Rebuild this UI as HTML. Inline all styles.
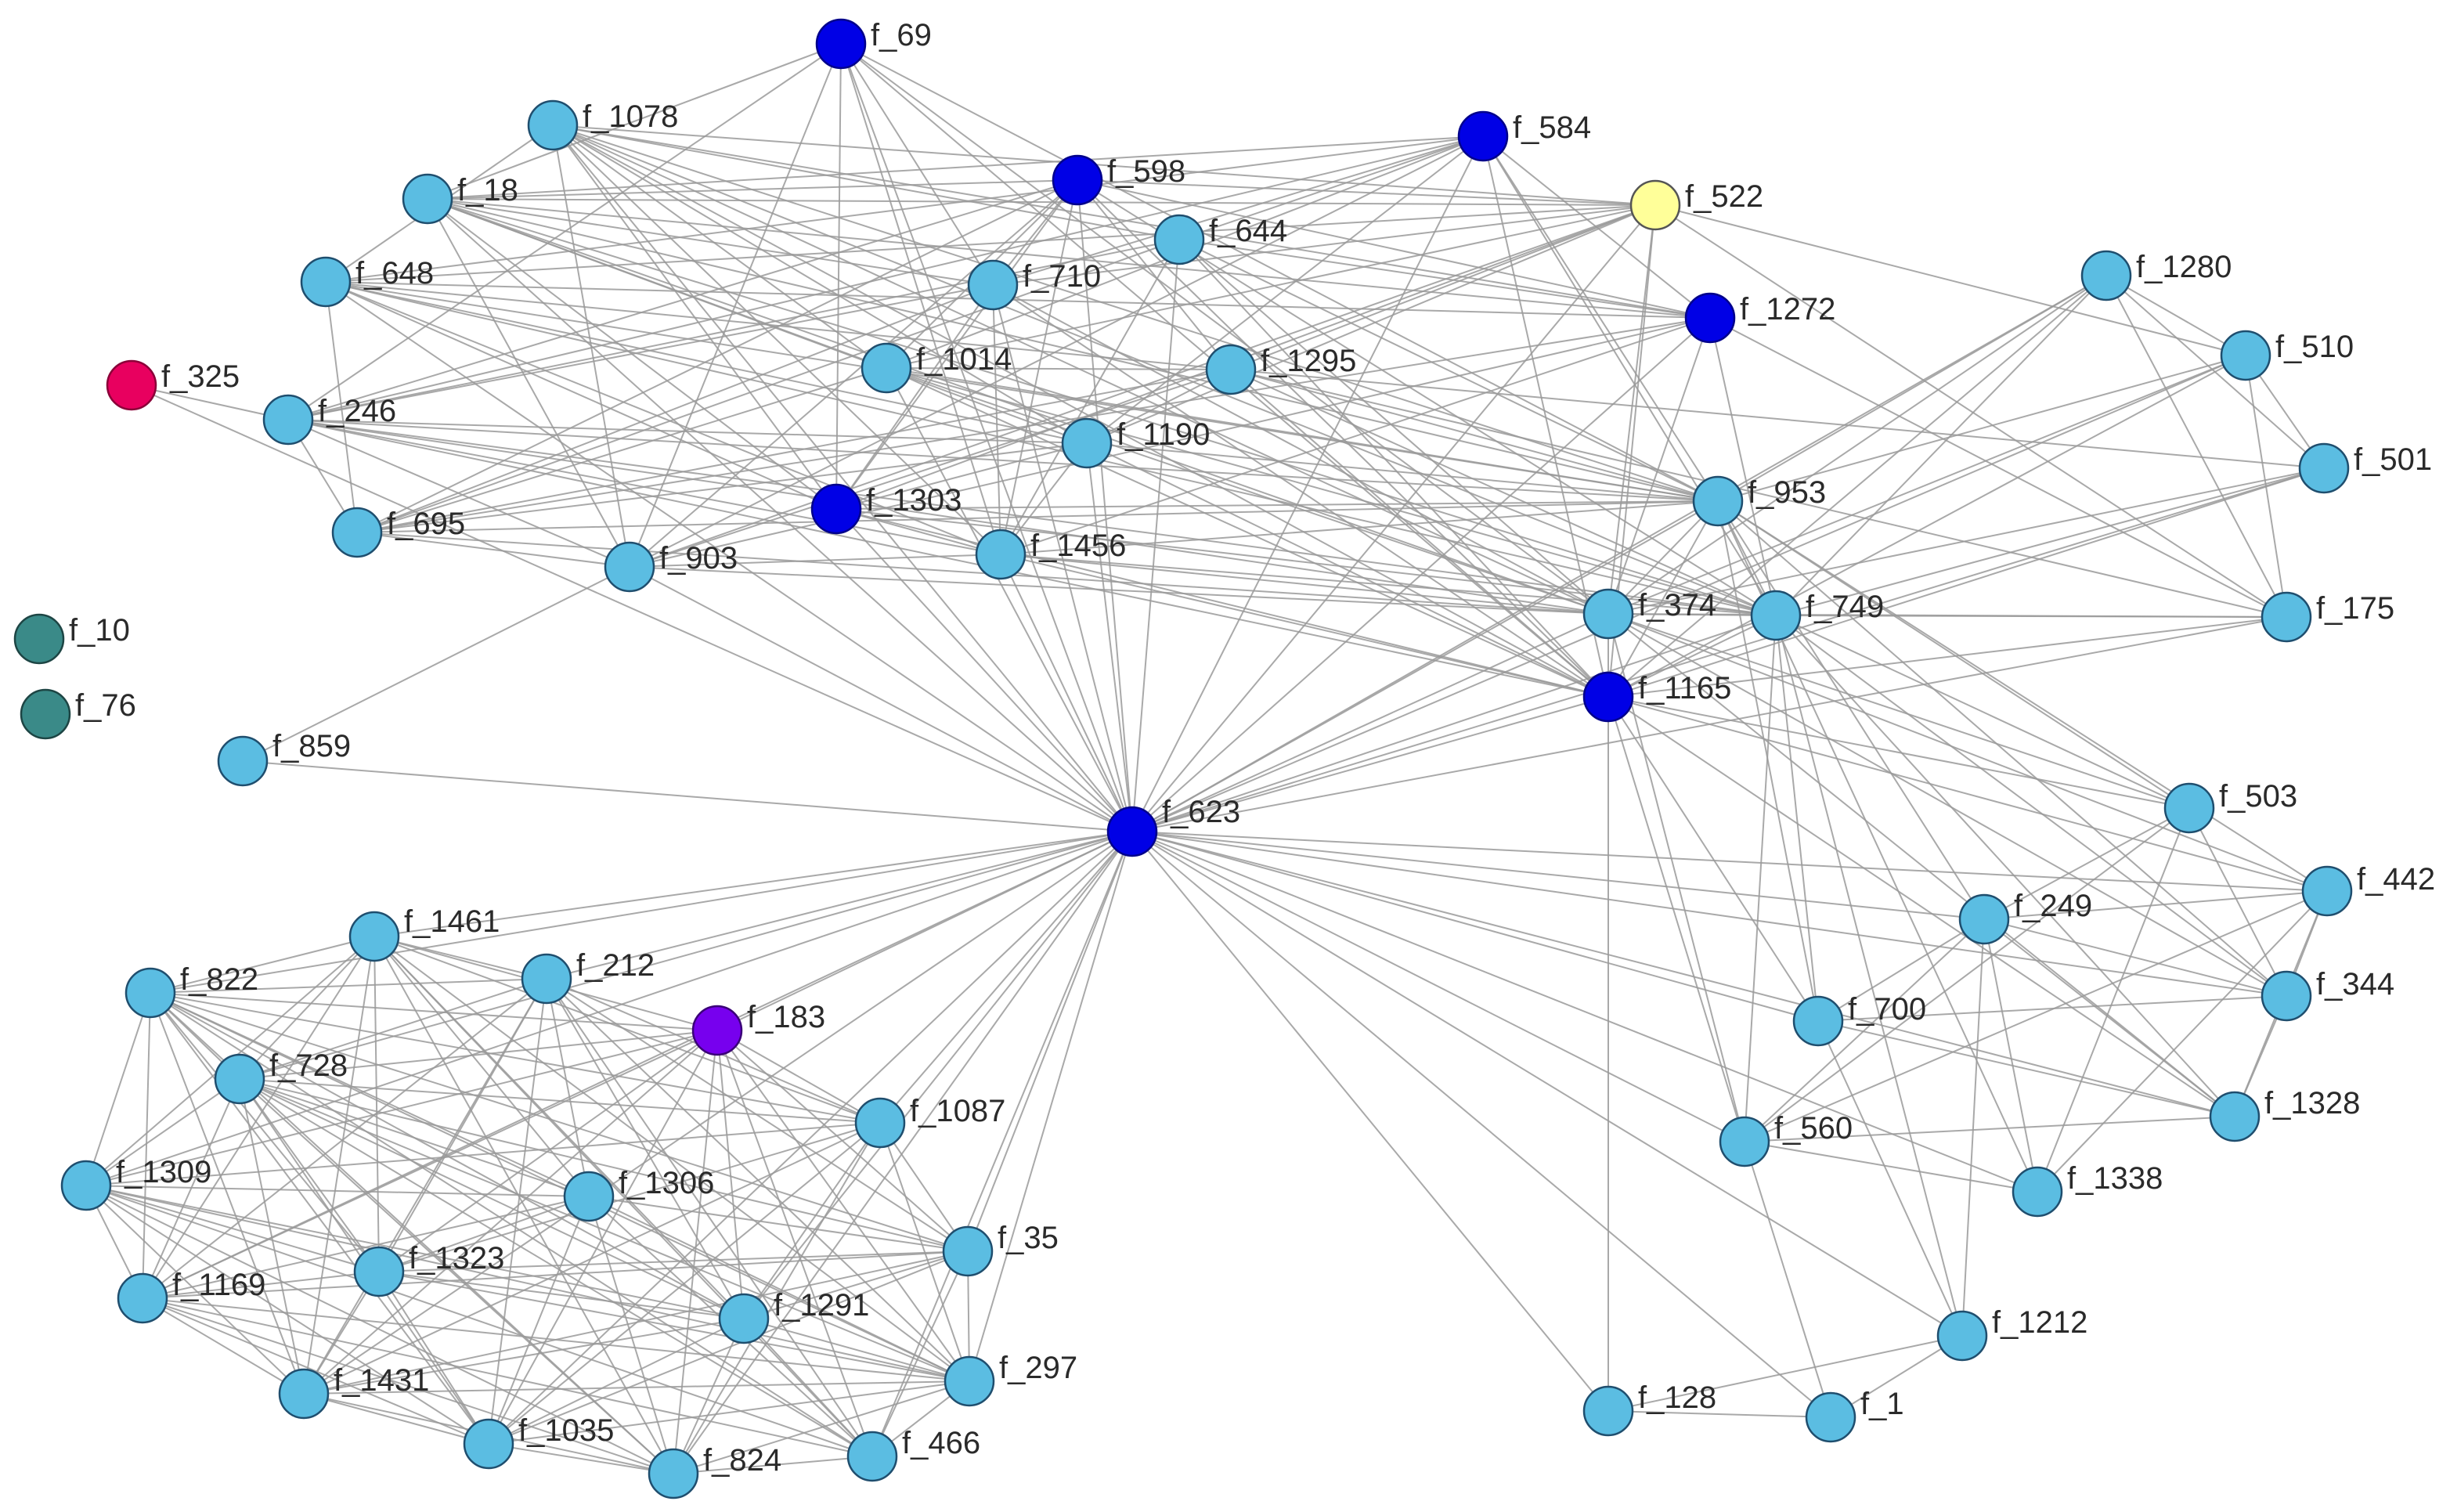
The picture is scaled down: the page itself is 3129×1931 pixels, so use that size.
<!DOCTYPE html>
<html><head><meta charset="utf-8"><style>
html,body{margin:0;padding:0;background:#fff;width:3129px;height:1931px;overflow:hidden}
svg{display:block}
text{font-family:"Liberation Sans",sans-serif;font-size:40px;fill:#2a2a2a}
</style></head><body>
<svg id="s" width="3129" height="1931" viewBox="0 0 3129 1931" xmlns="http://www.w3.org/2000/svg">
<g id="edges" stroke="#9a9a9a" stroke-width="2" stroke-opacity="0.85"></g>
<g id="nodes" stroke-width="2.5">
<circle cx="1074" cy="56" r="31" fill="#0000e6" stroke="#00008b"/><text x="1112" y="58">f_69</text>
<circle cx="706" cy="160" r="31" fill="#5bbde2" stroke="#1f4e6e"/><text x="744" y="162">f_1078</text>
<circle cx="546" cy="254" r="31" fill="#5bbde2" stroke="#1f4e6e"/><text x="584" y="256">f_18</text>
<circle cx="1376" cy="230" r="31" fill="#0000e6" stroke="#00008b"/><text x="1414" y="232">f_598</text>
<circle cx="1894" cy="174" r="31" fill="#0000e6" stroke="#00008b"/><text x="1932" y="176">f_584</text>
<circle cx="2114" cy="262" r="31" fill="#ffff99" stroke="#555"/><text x="2152" y="264">f_522</text>
<circle cx="1506" cy="306" r="31" fill="#5bbde2" stroke="#1f4e6e"/><text x="1544" y="308">f_644</text>
<circle cx="1268" cy="364" r="31" fill="#5bbde2" stroke="#1f4e6e"/><text x="1306" y="366">f_710</text>
<circle cx="416" cy="360" r="31" fill="#5bbde2" stroke="#1f4e6e"/><text x="454" y="362">f_648</text>
<circle cx="2184" cy="406" r="31" fill="#0000e6" stroke="#00008b"/><text x="2222" y="408">f_1272</text>
<circle cx="2690" cy="352" r="31" fill="#5bbde2" stroke="#1f4e6e"/><text x="2728" y="354">f_1280</text>
<circle cx="2868" cy="454" r="31" fill="#5bbde2" stroke="#1f4e6e"/><text x="2906" y="456">f_510</text>
<circle cx="1132" cy="470" r="31" fill="#5bbde2" stroke="#1f4e6e"/><text x="1170" y="472">f_1014</text>
<circle cx="1572" cy="472" r="31" fill="#5bbde2" stroke="#1f4e6e"/><text x="1610" y="474">f_1295</text>
<circle cx="168" cy="492" r="31" fill="#e8005f" stroke="#8a0038"/><text x="206" y="494">f_325</text>
<circle cx="368" cy="536" r="31" fill="#5bbde2" stroke="#1f4e6e"/><text x="406" y="538">f_246</text>
<circle cx="1388" cy="566" r="31" fill="#5bbde2" stroke="#1f4e6e"/><text x="1426" y="568">f_1190</text>
<circle cx="2968" cy="598" r="31" fill="#5bbde2" stroke="#1f4e6e"/><text x="3006" y="600">f_501</text>
<circle cx="2194" cy="640" r="31" fill="#5bbde2" stroke="#1f4e6e"/><text x="2232" y="642">f_953</text>
<circle cx="1068" cy="650" r="31" fill="#0000e6" stroke="#00008b"/><text x="1106" y="652">f_1303</text>
<circle cx="456" cy="680" r="31" fill="#5bbde2" stroke="#1f4e6e"/><text x="494" y="682">f_695</text>
<circle cx="1278" cy="708" r="31" fill="#5bbde2" stroke="#1f4e6e"/><text x="1316" y="710">f_1456</text>
<circle cx="804" cy="724" r="31" fill="#5bbde2" stroke="#1f4e6e"/><text x="842" y="726">f_903</text>
<circle cx="2054" cy="784" r="31" fill="#5bbde2" stroke="#1f4e6e"/><text x="2092" y="786">f_374</text>
<circle cx="2268" cy="786" r="31" fill="#5bbde2" stroke="#1f4e6e"/><text x="2306" y="788">f_749</text>
<circle cx="2920" cy="788" r="31" fill="#5bbde2" stroke="#1f4e6e"/><text x="2958" y="790">f_175</text>
<circle cx="50" cy="816" r="31" fill="#3a8a88" stroke="#1d4544"/><text x="88" y="818">f_10</text>
<circle cx="2054" cy="890" r="31" fill="#0000e6" stroke="#00008b"/><text x="2092" y="892">f_1165</text>
<circle cx="58" cy="912" r="31" fill="#3a8a88" stroke="#1d4544"/><text x="96" y="914">f_76</text>
<circle cx="310" cy="972" r="31" fill="#5bbde2" stroke="#1f4e6e"/><text x="348" y="966">f_859</text>
<circle cx="1446" cy="1062" r="31" fill="#0000e6" stroke="#00008b"/><text x="1484" y="1050">f_623</text>
<circle cx="2796" cy="1032" r="31" fill="#5bbde2" stroke="#1f4e6e"/><text x="2834" y="1030">f_503</text>
<circle cx="2972" cy="1138" r="31" fill="#5bbde2" stroke="#1f4e6e"/><text x="3010" y="1136">f_442</text>
<circle cx="2534" cy="1174" r="31" fill="#5bbde2" stroke="#1f4e6e"/><text x="2572" y="1170">f_249</text>
<circle cx="478" cy="1196" r="31" fill="#5bbde2" stroke="#1f4e6e"/><text x="516" y="1190">f_1461</text>
<circle cx="698" cy="1250" r="31" fill="#5bbde2" stroke="#1f4e6e"/><text x="736" y="1246">f_212</text>
<circle cx="192" cy="1268" r="31" fill="#5bbde2" stroke="#1f4e6e"/><text x="230" y="1264">f_822</text>
<circle cx="2920" cy="1272" r="31" fill="#5bbde2" stroke="#1f4e6e"/><text x="2958" y="1270">f_344</text>
<circle cx="2322" cy="1304" r="31" fill="#5bbde2" stroke="#1f4e6e"/><text x="2360" y="1302">f_700</text>
<circle cx="916" cy="1316" r="31" fill="#7700ee" stroke="#3a0077"/><text x="954" y="1312">f_183</text>
<circle cx="306" cy="1378" r="31" fill="#5bbde2" stroke="#1f4e6e"/><text x="344" y="1374">f_728</text>
<circle cx="2854" cy="1426" r="31" fill="#5bbde2" stroke="#1f4e6e"/><text x="2892" y="1422">f_1328</text>
<circle cx="1124" cy="1434" r="31" fill="#5bbde2" stroke="#1f4e6e"/><text x="1162" y="1432">f_1087</text>
<circle cx="2228" cy="1458" r="31" fill="#5bbde2" stroke="#1f4e6e"/><text x="2266" y="1454">f_560</text>
<circle cx="110" cy="1514" r="31" fill="#5bbde2" stroke="#1f4e6e"/><text x="148" y="1510">f_1309</text>
<circle cx="2602" cy="1522" r="31" fill="#5bbde2" stroke="#1f4e6e"/><text x="2640" y="1518">f_1338</text>
<circle cx="752" cy="1528" r="31" fill="#5bbde2" stroke="#1f4e6e"/><text x="790" y="1524">f_1306</text>
<circle cx="1236" cy="1598" r="31" fill="#5bbde2" stroke="#1f4e6e"/><text x="1274" y="1594">f_35</text>
<circle cx="484" cy="1624" r="31" fill="#5bbde2" stroke="#1f4e6e"/><text x="522" y="1620">f_1323</text>
<circle cx="182" cy="1658" r="31" fill="#5bbde2" stroke="#1f4e6e"/><text x="220" y="1654">f_1169</text>
<circle cx="950" cy="1684" r="31" fill="#5bbde2" stroke="#1f4e6e"/><text x="988" y="1680">f_1291</text>
<circle cx="2506" cy="1706" r="31" fill="#5bbde2" stroke="#1f4e6e"/><text x="2544" y="1702">f_1212</text>
<circle cx="1238" cy="1764" r="31" fill="#5bbde2" stroke="#1f4e6e"/><text x="1276" y="1760">f_297</text>
<circle cx="388" cy="1780" r="31" fill="#5bbde2" stroke="#1f4e6e"/><text x="426" y="1776">f_1431</text>
<circle cx="2054" cy="1802" r="31" fill="#5bbde2" stroke="#1f4e6e"/><text x="2092" y="1798">f_128</text>
<circle cx="2338" cy="1810" r="31" fill="#5bbde2" stroke="#1f4e6e"/><text x="2376" y="1806">f_1</text>
<circle cx="624" cy="1844" r="31" fill="#5bbde2" stroke="#1f4e6e"/><text x="662" y="1840">f_1035</text>
<circle cx="1114" cy="1860" r="31" fill="#5bbde2" stroke="#1f4e6e"/><text x="1152" y="1856">f_466</text>
<circle cx="860" cy="1882" r="31" fill="#5bbde2" stroke="#1f4e6e"/><text x="898" y="1878">f_824</text>
</g>
</svg>
<script>
(function(){
var P={};
var cs=document.querySelectorAll('#nodes circle'),ts=document.querySelectorAll('#nodes text');
for(var i=0;i<cs.length;i++){P[ts[i].textContent.slice(2)]=[+cs[i].getAttribute('cx'),+cs[i].getAttribute('cy')];}
var seed=12345;function r(){seed=(seed*1103515245+12345)%2147483648;return seed/2147483648;}
var E=[],seen={};
function add(a,b){if(a==b)return;var k=a<b?a+'-'+b:b+'-'+a;if(seen[k])return;seen[k]=1;E.push([a,b]);}
function grp(g,p){for(var i=0;i<g.length;i++)for(var j=i+1;j<g.length;j++)if(r()<p)add(g[i],g[j]);}
function bip(g,h,p){for(var i=0;i<g.length;i++)for(var j=0;j<h.length;j++)if(r()<p)add(g[i],h[j]);}
var A=['69','1078','18','598','584','522','644','710','648','1272','1014','1295','246','1190','1303','695','1456','903'];
var M=['953','374','749','1165'];
var B=['1280','510','501','175'];
var C=['503','442','249','344','700','1328','560','1338'];
var D=['1461','212','822','183','728','1087','1309','1306','35','1323','1169','1291','297','1431','1035','466','824'];
grp(A,0.55);bip(A,M,0.65);grp(M,1);grp(B,0.9);bip(B,M,0.85);bip(B,['1272','522','1295'],0.45);
bip(M,C,0.62);grp(C,0.6);grp(D,0.85);
var all=Object.keys(P);
for(var i=0;i<all.length;i++){var n=all[i];if(n=='623'||n=='10'||n=='76')continue;if(r()<0.86)add('623',n);}
[['325','246'],['325','623'],['859','623'],['859','903'],['128','1165'],['128','1'],['128','1212'],['1','1212'],['1','623'],['1','560'],['1212','700'],['1212','249'],['1212','749'],['1165','560'],['1165','700'],['1328','442'],['1328','344'],['1328','560'],['1328','249'],['1338','560'],['1338','503'],['442','249'],['344','700']].forEach(function(e){add(e[0],e[1]);});
var g=document.getElementById('edges'),h='';
E.forEach(function(e){var a=P[e[0]],b=P[e[1]];h+='<line x1="'+a[0]+'" y1="'+a[1]+'" x2="'+b[0]+'" y2="'+b[1]+'"/>';});
g.innerHTML=h;
})();
</script>
</body></html>
